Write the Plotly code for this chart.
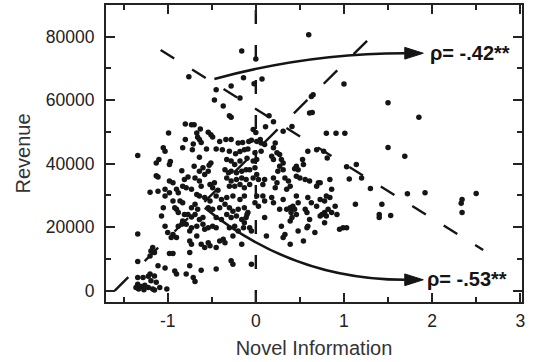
import plotly.graph_objects as go

# ---------------- data ----------------
# sparse / upper points
x_top = [0.60, -0.16, 0.00, -0.76, -0.14, 0.07, -0.02, -0.28, -0.45, -0.47,
         -0.18, -0.37, 1.00, 0.63, 0.65, 1.50, 1.85, 0.61, 0.64, -0.30,
         -0.28, 0.15, 0.20, 1.50, 1.69, 0.80, 0.91, 1.01, 0.11, 0.41,
         0.31, 0.69, 0.81, 0.59, 0.77, 1.14, 1.03, 1.06, 1.20, 1.30,
         1.72, 1.92, 2.50, 2.34, 2.33, 2.34, 1.43, 1.53, 1.40, 1.40, 1.13]
rev_top = [80600, 75500, 73000, 67400, 67100, 66700, 65200, 64500, 63300, 60100,
           60700, 58200, 65100, 61200, 61700, 59200, 54600, 56000, 56100, 55100,
           54600, 55100, 53200, 45100, 42300, 49600, 49600, 49600, 51600, 51700,
           50200, 44400, 41800, 43900, 43900, 39700, 39000, 35200, 35500, 32200,
           30500, 30800, 30600, 28700, 27500, 24600, 27200, 23700, 24000, 23000, 27200]

# low-revenue points, left side
x_low = [-1.34, -1.20, -1.34, -1.34, -1.34, -1.28, -1.22, -1.34, -1.30, -1.26,
         -1.33, -1.27, -1.22, -1.36, -1.20, -1.15, -1.19, -1.13, -1.17, -1.09,
         -1.15, -1.01, -1.11, -1.03, -1.17, -1.19, -1.15, -1.20, -0.98, -0.94,
         -0.92, -0.90, -0.79, -0.75, -0.71, -0.69, -0.62, -0.45, -0.28, -0.26, -0.05]
rev_low = [42600, 31000, 17800, 9200, 4100, 4100, 4500, 2000, 1300, 1700,
           500, 300, 1000, 1000, 5200, 4600, 3100, 2600, 500, 1000,
           200, 500, 7800, 7100, 13600, 12500, 12000, 10900, 11700, 11700,
           6200, 5200, 5200, 7800, 4100, 2900, 6400, 6800, 9400, 8300, 8300]

# mid-revenue points, negative novelty
x_mid = [-1.00, -0.94, -0.90, -0.96, -0.75, -0.67, -0.75, -0.73, -0.75, -0.62,
         -0.58, -0.52, -0.54, -0.41, -0.37, -0.35, -0.45, -0.26, -0.20, -0.16,
         -0.14, -0.13, -1.03, -0.88, -0.83, -0.84, -0.79, -0.73, -0.67, -0.60,
         -0.58, -0.54, -0.49, -0.45, -0.81, -0.77, -0.73, -0.69, -0.64, -0.60,
         -1.05, -1.07, -0.92, -0.90, -0.88, -0.73, -0.69, -0.66, -1.03, -0.94,
         -0.86, -0.83, -0.64, -0.58, -0.52, -0.45, -0.39, -0.33, -0.26, -0.18,
         -0.13, -0.54, -0.49, -0.41, -0.35, -0.30, -0.26, -0.20, -0.13, -0.09,
         -0.33, -0.28, -0.22, -0.16, -0.11, -0.45, -0.39, -0.30, -0.24, -0.10, -0.67]
rev_mid = [18300, 17700, 16700, 16700, 18800, 17200, 15600, 14600, 12000, 14600,
           13600, 14100, 15100, 15600, 16200, 15100, 13600, 17200, 18800, 14600,
           19800, 21400, 20300, 20300, 21900, 20900, 20900, 19800, 20300, 20900,
           19300, 19800, 20300, 19800, 24000, 24000, 23200, 24000, 22400, 23000,
           26100, 23500, 26100, 25600, 24600, 26100, 27200, 25600, 29800, 28200,
           28200, 27700, 29800, 29300, 28200, 29800, 28700, 29300, 29800, 28700,
           29800, 26100, 25600, 26100, 27200, 26100, 25000, 25600, 26100, 24600,
           24000, 23000, 23500, 22400, 23000, 23000, 22400, 19800, 20300, 24000, 30300]

# high-revenue points, negative novelty
x_up = [-0.80, -0.73, -0.70, -0.63, -0.99, -0.67, -0.66, -0.54, -0.51, -0.49,
        -0.64, -0.62, -0.80, -0.71, -0.72, -0.41, -0.34, -0.28, -0.20, -0.15,
        -0.08, -1.05, -1.03, -0.83, -0.56, -0.45, -0.38, -0.30, -0.23, -0.18,
        -0.13, -0.09, -0.64, -1.13, -1.10, -0.97, -0.98, -0.84, -0.70, -0.64,
        -0.60, -0.51, -0.53, -0.33, -0.28, -0.24, -0.18, -0.35, -0.31, -0.28,
        -0.22, -0.16, -0.11, -0.33, -0.28, -0.22, -0.16, -0.11, -0.30, -0.24,
        -0.18, -0.13, -0.07, -1.13, -1.11, -0.69, -0.58, -0.54, -0.98, -0.94,
        -0.81, -0.77, -0.83, -0.79, -0.64, -0.62, -0.52, -0.49, -0.47, -0.43,
        -1.11, -1.03, -0.98, -0.90, -0.88, -0.73]
rev_up = [52500, 52300, 52300, 50900, 49700, 49700, 48300, 49900, 49100, 48400,
          47600, 46700, 47600, 46200, 44400, 47000, 47600, 47600, 46500, 46700,
          47000, 45000, 43900, 45000, 44600, 44600, 44400, 43900, 43100, 43800,
          44400, 44600, 42000, 40200, 41300, 40700, 39700, 37800, 39200, 37600,
          38700, 40200, 39500, 41300, 40800, 39700, 40800, 38100, 37100, 37600,
          37100, 37600, 38100, 35500, 34500, 35000, 35500, 35000, 32900, 32900,
          33400, 32400, 33400, 36200, 35800, 35500, 36600, 37600, 34500, 34000,
          35000, 35800, 32900, 32400, 34500, 32900, 33400, 32400, 34000, 31600,
          31300, 31900, 30800, 31900, 30800, 31900]

# high-revenue points, positive novelty
x_right = [0.01, 0.05, 0.06, 0.10, 0.22, 0.20, 0.24, 0.27, 0.29, 0.31,
           0.27, 0.31, 0.25, -0.01, 0.06, -0.03, 0.01, 0.18, 0.20, -0.07,
           -0.01, 0.01, -0.03, 0.03, 0.10, 0.08, 0.20, 0.24, 0.22, 0.33,
           0.37, 0.39, 0.35, 0.46, 0.48, 0.44, 0.53, 0.54, 0.46, 0.50,
           0.56, 0.61, 0.69, 0.71, 0.84, 0.86, -0.03, 0.00, -0.05, -0.10, 0.73]
rev_right = [47000, 47600, 46500, 46000, 46500, 45000, 43400, 42900, 41300, 40200,
             39200, 38100, 37600, 43400, 43900, 40800, 41300, 42300, 41300, 38100,
             38700, 36600, 35500, 35000, 35000, 33400, 35500, 34000, 32400, 35500,
             34500, 32900, 31900, 39200, 38100, 38400, 41300, 39700, 36000, 35500,
             35000, 34500, 32900, 34000, 35000, 31900, 50800, 49800, 47400, 41700, 34000]

# lower-revenue points, positive novelty
x_lr = [0.01, 0.08, 0.18, 0.10, 0.20, -0.01, 0.03, 0.31, 0.46, 0.48,
        0.59, 0.63, 0.73, 0.78, 0.80, 0.84, 0.27, 0.35, 0.39, 0.42,
        0.44, 0.40, 0.46, 0.41, 0.39, 0.56, 0.58, 0.61, 0.59, 0.58,
        0.69, 0.73, 0.75, 0.78, 0.80, 0.86, 0.82, 0.90, 0.92, 0.78,
        0.95, 0.99, 1.03, 0.10, 0.29, 0.33, 0.31, 0.12, 0.39, 0.48,
        0.54, 0.67, -0.07, -0.05]
rev_lr = [29800, 29800, 29300, 28200, 27700, 27700, 26600, 28700, 29800, 27700,
          29300, 27700, 28700, 28200, 29800, 29300, 25600, 25600, 26100, 26600,
          25600, 24600, 24000, 23000, 21900, 25600, 24600, 22400, 20300, 19800,
          26600, 23500, 24000, 24600, 23500, 24600, 25600, 26600, 24000, 21400,
          19300, 19800, 19800, 23000, 20300, 17700, 16700, 17200, 14600, 18800,
          15600, 18300, 19800, 18800]

# reference lines (endpoints in data units)
vline_x = [0, 0]
vline_y = [88400, -3600]
up_line_x = [-1.60, 1.36]
up_line_y = [0, 81400]
down_line_x = [-1.08, 2.58]
down_line_y = [75800, 12800]

x_tick_vals = [-1, 0, 1, 2, 3]
y_tick_vals = [0, 20000, 40000, 60000, 80000]

labels = ["ρ= -.42**", "ρ= -.53**"]

novel = x_top + x_low + x_mid + x_up + x_right + x_lr
revenue = rev_top + rev_low + rev_mid + rev_up + rev_right + rev_lr

INK = "#151515"

fig = go.Figure()
fig.add_trace(go.Scatter(x=vline_x, y=vline_y, mode="lines",
                         line=dict(color=INK, width=2.4, dash="14px,21px"), hoverinfo="skip"))
fig.add_trace(go.Scatter(x=up_line_x, y=up_line_y, mode="lines",
                         line=dict(color=INK, width=2.4, dash="19px,23px"), hoverinfo="skip"))
fig.add_trace(go.Scatter(x=down_line_x, y=down_line_y, mode="lines",
                         line=dict(color=INK, width=2.4, dash="16px,21px"), hoverinfo="skip"))
fig.add_trace(go.Scatter(x=novel, y=revenue, mode="markers",
                         marker=dict(size=5.5, color=INK, line=dict(width=0))))

# curved arrows
shapes = [
    dict(type="path", xref="x", yref="y", path="M -0.47,66700 Q 0.60,74800 1.69,74800",
         line=dict(color=INK, width=2.6)),
    dict(type="path", xref="x", yref="y", path="M 1.69,76650 L 1.90,74800 L 1.69,72950 Z",
         line=dict(color=INK, width=1), fillcolor=INK),
    dict(type="path", xref="x", yref="y", path="M -0.58,26100 Q 0.42,3400 1.69,3400",
         line=dict(color=INK, width=2.6)),
    dict(type="path", xref="x", yref="y", path="M 1.69,5250 L 1.90,3400 L 1.69,1550 Z",
         line=dict(color=INK, width=1), fillcolor=INK),
]

annotations = [
    dict(x=1.95, y=74800, xref="x", yref="y", text="<b>" + labels[0] + "</b>", showarrow=False,
         xanchor="left", yanchor="middle", font=dict(size=20, color=INK)),
    dict(x=1.92, y=3500, xref="x", yref="y", text="<b>" + labels[1] + "</b>", showarrow=False,
         xanchor="left", yanchor="middle", font=dict(size=20, color=INK)),
]

fig.update_layout(
    width=534, height=362,
    margin=dict(l=106, r=12, t=5, b=60, autoexpand=False),
    paper_bgcolor="white", plot_bgcolor="white",
    showlegend=False,
    font=dict(family="Arial, Liberation Sans, sans-serif", color="#222"),
    shapes=shapes, annotations=annotations,
)

axis_common = dict(
    ticks="inside", ticklen=9, tickwidth=1.6, tickcolor="#222",
    showline=True, linewidth=2, linecolor="#222", mirror="ticks",
    showgrid=False, zeroline=False, tickfont=dict(size=17.5, color="#222"),
    automargin=False,
)
fig.update_xaxes(range=[-1.70, 3.02], tickvals=x_tick_vals,
                 ticktext=[str(v) for v in x_tick_vals],
                 minor=dict(ticks="inside", ticklen=5, dtick=0.5, tick0=0,
                            tickcolor="#222", tickwidth=1.6, showgrid=False),
                 title=dict(text="Novel Information", font=dict(size=20, color="#333"), standoff=11),
                 ticklabelstandoff=2, **axis_common)
fig.update_yaxes(range=[-3600, 90000], tickvals=y_tick_vals,
                 ticktext=[str(v) for v in y_tick_vals],
                 minor=dict(ticks="inside", ticklen=5, dtick=10000, tick0=0,
                            tickcolor="#222", tickwidth=1.6, showgrid=False),
                 title=dict(text="Revenue", font=dict(size=20, color="#333"), standoff=10),
                 ticklabelstandoff=6, **axis_common)

fig.write_html("out.html", config={"displayModeBar": False},
               post_script="document.body.style.margin='0';document.body.style.overflow='hidden';")
